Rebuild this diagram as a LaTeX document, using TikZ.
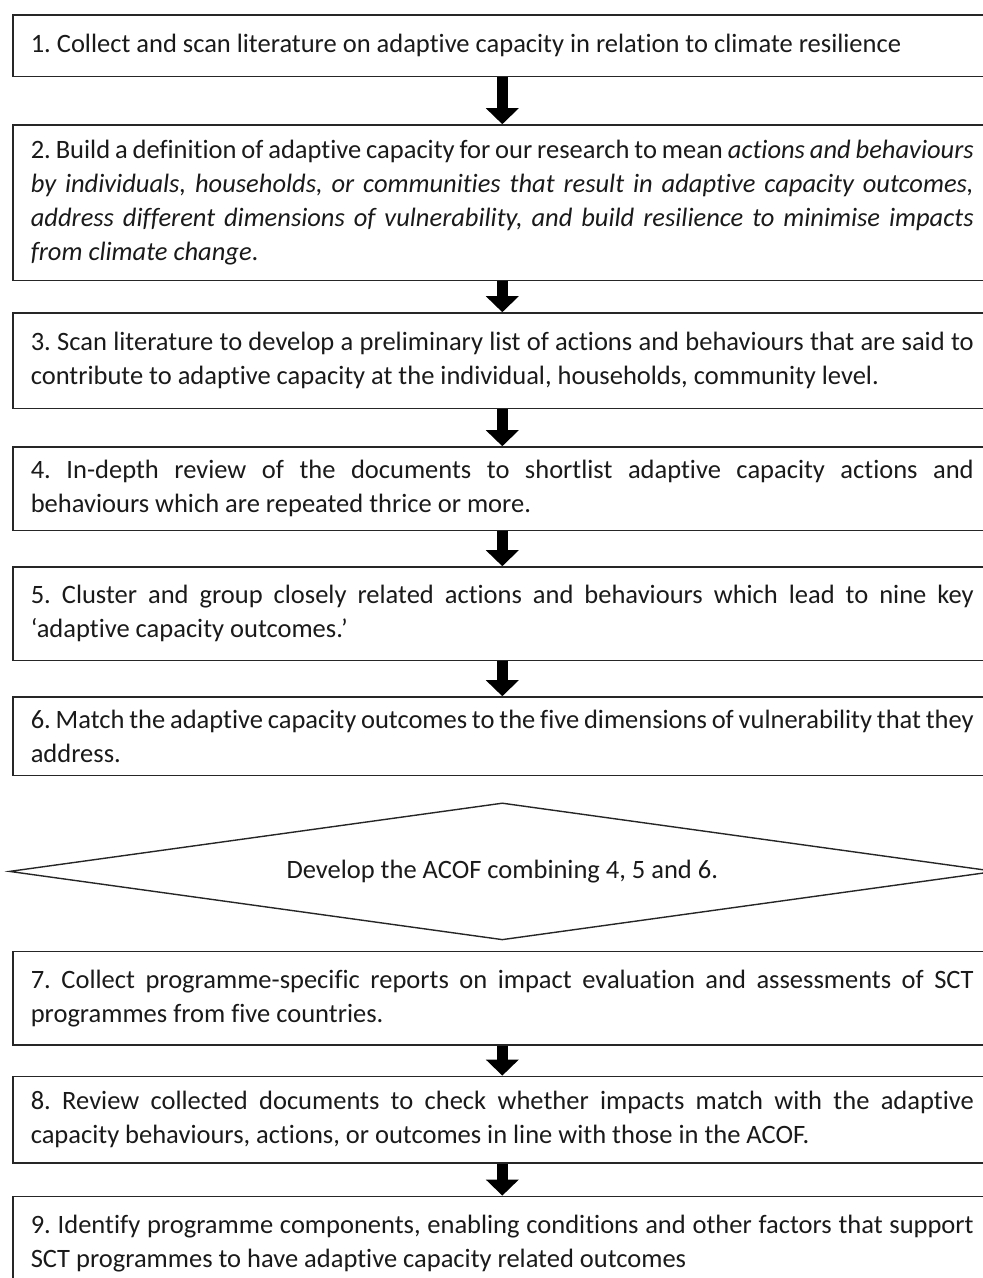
\documentclass[tikz,border=0pt]{standalone}
\usepackage{fontspec}
\setmainfont{Carlito}[Ligatures={NoCommon}]
\usepackage{xcolor}
\usepackage{tikz}
\usetikzlibrary{arrows.meta,positioning,shapes.geometric}
\definecolor{acofline}{HTML}{262626}
\definecolor{acoftext}{HTML}{1A1A1A}
\frenchspacing
\tikzset{%
  acofbox/.style={%
    draw=acofline,
    line width=1.6pt,
    fill=white,
    text=acoftext,
    text width=943pt,
    inner xsep=18pt,
    inner ysep=4pt,
    align=justify,
    font={\fontsize{26.5}{34}\selectfont}
  },
  acofdecision/.style={%
    diamond,
    draw=acofline,
    line width=1.4pt,
    fill=white,
    text=acoftext,
    aspect=7.2,
    minimum width=986pt,
    minimum height=137pt,
    inner sep=0pt,
    align=center,
    font={\fontsize{26.5}{34}\selectfont}
  },
  acofarrow/.style={-{Triangle[width=32pt,length=16pt]},line width=11pt,draw=black}
}
\begin{document}
\begin{tikzpicture}[x=1pt,y=1pt]
    \useasboundingbox (0,0) rectangle (983,-1278);
    \node[acofbox,minimum height=61.4pt,anchor=north west] (collect) at (12,-14.2) {1. Collect and scan literature on adaptive capacity in relation to climate resilience};
    \node[acofbox,minimum height=155.4pt,below=47pt of collect] (define) {2. Build a definition of adaptive capacity for our research to mean \textit{actions and behaviours\linebreak by individuals, households, or communities that result in adaptive capacity outcomes,\linebreak address different dimensions of vulnerability, and build resilience to minimise impacts\linebreak from climate change}.};
    \node[acofbox,minimum height=95.4pt,below=31pt of define] (scan) {3. Scan literature to develop a preliminary list of actions and behaviours that are said to\linebreak contribute to adaptive capacity at the individual, households, community level.};
    \node[acofbox,minimum height=83.4pt,below=37pt of scan] (shortlist) {4. In-depth review of the documents to shortlist adaptive capacity actions and\linebreak behaviours which are repeated thrice or more.};
    \node[acofbox,minimum height=93.4pt,below=35pt of shortlist] (cluster) {5. Cluster and group closely related actions and behaviours which lead to nine key\linebreak ‘adaptive capacity outcomes.’};
    \node[acofbox,minimum height=78.4pt,below=35pt of cluster] (match) {6. Match the adaptive capacity outcomes to the five dimensions of vulnerability that they\linebreak address.};
    \node[acofdecision,below=26pt of match] (develop) {Develop the ACOF combining 4, 5 and 6.};
    \node[acofbox,minimum height=93.4pt,below=10pt of develop] (reports) {7. Collect programme-specific reports on impact evaluation and assessments of SCT\linebreak programmes from five countries.};
    \node[acofbox,minimum height=86.4pt,below=30pt of reports] (check) {8. Review collected documents to check whether impacts match with the adaptive\linebreak capacity behaviours, actions, or outcomes in line with those in the ACOF.};
    \node[acofbox,minimum height=93.4pt,below=32pt of check] (identify) {9. Identify programme components, enabling conditions and other factors that support\linebreak SCT programmes to have adaptive capacity related outcomes};

    \draw[acofarrow] (collect) -- (define);
    \draw[acofarrow] (define) -- (scan);
    \draw[acofarrow] (scan) -- (shortlist);
    \draw[acofarrow] (shortlist) -- (cluster);
    \draw[acofarrow] (cluster) -- (match);
    \draw[acofarrow] (reports) -- (check);
    \draw[acofarrow] (check) -- (identify);
\end{tikzpicture}
\end{document}
